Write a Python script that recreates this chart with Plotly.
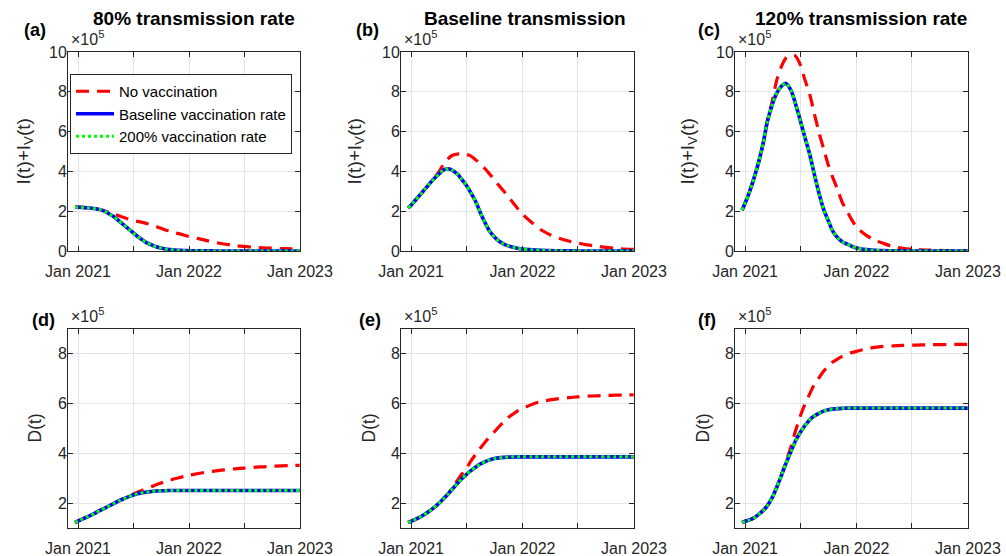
import plotly.graph_objects as go

# ---------------- data (values in units of 10^5) ----------------
dates = ["2020-12-22", "2021-01-01", "2021-01-15", "2021-02-01", "2021-02-15", "2021-03-01",
         "2021-03-15", "2021-04-01", "2021-04-15", "2021-05-01", "2021-05-15", "2021-06-01",
         "2021-06-15", "2021-07-01", "2021-07-15", "2021-08-01", "2021-08-15", "2021-09-01",
         "2021-09-15", "2021-10-01", "2021-10-15", "2021-11-01", "2021-11-15", "2021-12-01",
         "2021-12-15", "2022-01-01", "2022-02-01", "2022-03-01", "2022-04-01", "2022-05-01",
         "2022-06-01", "2022-07-01", "2022-08-01", "2022-09-01", "2022-10-01", "2022-11-01",
         "2022-12-01", "2022-12-31"]

# Infections I(t)+I_V(t)
inf_novac_80 = [2.20, 2.20, 2.19, 2.17, 2.15, 2.12, 2.08, 2.00, 1.92, 1.84, 1.77, 1.68, 1.61,
                1.53, 1.49, 1.44, 1.38, 1.31, 1.23, 1.14, 1.06, 0.99, 0.92, 0.86, 0.80, 0.73,
                0.62, 0.52, 0.42, 0.34, 0.27, 0.23, 0.19, 0.16, 0.14, 0.12, 0.11, 0.10]
inf_base_80 = [2.20, 2.20, 2.19, 2.17, 2.15, 2.12, 2.08, 1.98, 1.85, 1.70, 1.52, 1.30, 1.12,
               0.92, 0.74, 0.55, 0.41, 0.30, 0.21, 0.15, 0.10, 0.07, 0.05, 0.03, 0.02, 0.015,
               0.01, 0.005, 0.003, 0.002, 0.001, 0.0, 0.0, 0.0, 0.0, 0.0, 0.0, 0.0]
inf_200_80 = [2.20, 2.20, 2.19, 2.17, 2.15, 2.12, 2.08, 1.98, 1.85, 1.70, 1.52, 1.30, 1.12,
              0.92, 0.74, 0.55, 0.41, 0.30, 0.21, 0.15, 0.10, 0.07, 0.05, 0.03, 0.02, 0.015,
              0.01, 0.005, 0.003, 0.002, 0.001, 0.0, 0.0, 0.0, 0.0, 0.0, 0.0, 0.0]

inf_novac_100 = [2.17, 2.30, 2.55, 2.85, 3.10, 3.35, 3.62, 3.95, 4.30, 4.62, 4.80, 4.87, 4.88,
                 4.85, 4.78, 4.58, 4.38, 4.12, 3.87, 3.58, 3.30, 3.00, 2.72, 2.43, 2.15, 1.85,
                 1.42, 1.08, 0.82, 0.64, 0.50, 0.40, 0.31, 0.24, 0.18, 0.13, 0.10, 0.08]
inf_base_100 = [2.17, 2.30, 2.55, 2.85, 3.10, 3.35, 3.60, 3.85, 4.05, 4.13, 4.07, 3.88, 3.62,
                3.30, 2.95, 2.47, 1.95, 1.40, 1.00, 0.70, 0.50, 0.35, 0.26, 0.19, 0.14, 0.10,
                0.06, 0.035, 0.02, 0.01, 0.005, 0.003, 0.002, 0.001, 0.0, 0.0, 0.0, 0.0]
inf_200_100 = [2.17, 2.30, 2.55, 2.85, 3.10, 3.35, 3.60, 3.85, 4.05, 4.13, 4.07, 3.88, 3.62,
               3.30, 2.95, 2.47, 1.95, 1.40, 1.00, 0.70, 0.50, 0.35, 0.26, 0.19, 0.14, 0.10,
               0.06, 0.035, 0.02, 0.01, 0.005, 0.003, 0.002, 0.001, 0.0, 0.0, 0.0, 0.0]

inf_novac_120 = [2.05, 2.40, 2.95, 3.75, 4.50, 5.40, 6.55, 7.60, 8.60, 9.30, 9.70, 9.85, 9.80,
                 9.35, 8.65, 7.85, 6.95, 5.90, 5.15, 4.30, 3.70, 3.05, 2.45, 2.00, 1.60, 1.20,
                 0.80, 0.55, 0.37, 0.22, 0.14, 0.09, 0.06, 0.04, 0.03, 0.02, 0.01, 0.01]
inf_base_120 = [2.05, 2.40, 2.95, 3.75, 4.50, 5.40, 6.50, 7.40, 7.95, 8.30, 8.42, 8.05, 7.40,
                6.55, 5.75, 4.84, 3.90, 2.85, 2.10, 1.50, 1.00, 0.65, 0.47, 0.35, 0.25, 0.15,
                0.07, 0.035, 0.018, 0.009, 0.005, 0.002, 0.0, 0.0, 0.0, 0.0, 0.0, 0.0]
inf_200_120 = [2.05, 2.40, 2.95, 3.75, 4.50, 5.40, 6.50, 7.40, 7.95, 8.30, 8.42, 8.05, 7.40,
               6.55, 5.75, 4.84, 3.90, 2.85, 2.10, 1.50, 1.00, 0.65, 0.47, 0.35, 0.25, 0.15,
               0.07, 0.035, 0.018, 0.009, 0.005, 0.002, 0.0, 0.0, 0.0, 0.0, 0.0, 0.0]

# Deaths D(t)
dth_novac_80 = [1.22, 1.28, 1.36, 1.45, 1.53, 1.62, 1.71, 1.81, 1.90, 2.00, 2.09, 2.19, 2.27,
                2.36, 2.44, 2.52, 2.59, 2.67, 2.74, 2.81, 2.87, 2.93, 2.98, 3.03, 3.07, 3.12,
                3.19, 3.25, 3.30, 3.34, 3.38, 3.41, 3.44, 3.46, 3.48, 3.50, 3.51, 3.52]
dth_base_80 = [1.22, 1.28, 1.36, 1.45, 1.53, 1.62, 1.71, 1.81, 1.90, 2.00, 2.09, 2.18, 2.25,
               2.32, 2.38, 2.42, 2.45, 2.47, 2.49, 2.50, 2.50, 2.51, 2.51, 2.51, 2.51, 2.51,
               2.51, 2.51, 2.51, 2.51, 2.51, 2.51, 2.51, 2.51, 2.51, 2.51, 2.51, 2.51]
dth_200_80 = [1.22, 1.28, 1.36, 1.45, 1.53, 1.62, 1.71, 1.81, 1.90, 2.00, 2.09, 2.18, 2.25,
              2.32, 2.38, 2.42, 2.45, 2.47, 2.49, 2.50, 2.50, 2.51, 2.51, 2.51, 2.51, 2.51,
              2.51, 2.51, 2.51, 2.51, 2.51, 2.51, 2.51, 2.51, 2.51, 2.51, 2.51, 2.51]

dth_novac_100 = [1.22, 1.27, 1.35, 1.45, 1.55, 1.67, 1.80, 1.98, 2.15, 2.36, 2.60, 2.90, 3.15,
                 3.38, 3.68, 3.97, 4.20, 4.46, 4.66, 4.87, 5.06, 5.28, 5.44, 5.58, 5.70, 5.80,
                 5.97, 6.08, 6.15, 6.20, 6.24, 6.27, 6.30, 6.31, 6.33, 6.34, 6.35, 6.35]
dth_base_100 = [1.22, 1.27, 1.35, 1.45, 1.55, 1.67, 1.80, 1.98, 2.15, 2.35, 2.55, 2.78, 2.97,
                3.15, 3.30, 3.45, 3.57, 3.67, 3.74, 3.79, 3.82, 3.84, 3.85, 3.85, 3.86, 3.86,
                3.86, 3.86, 3.86, 3.86, 3.86, 3.86, 3.86, 3.86, 3.86, 3.86, 3.86, 3.86]
dth_200_100 = [1.22, 1.27, 1.35, 1.45, 1.55, 1.67, 1.80, 1.98, 2.15, 2.35, 2.55, 2.78, 2.97,
               3.15, 3.30, 3.45, 3.57, 3.67, 3.74, 3.79, 3.82, 3.84, 3.85, 3.85, 3.86, 3.86,
               3.86, 3.86, 3.86, 3.86, 3.86, 3.86, 3.86, 3.86, 3.86, 3.86, 3.86, 3.86]

dth_novac_120 = [1.22, 1.27, 1.32, 1.42, 1.55, 1.70, 1.90, 2.25, 2.65, 3.15, 3.65, 4.30, 4.90,
                 5.50, 5.95, 6.40, 6.75, 7.05, 7.30, 7.50, 7.67, 7.80, 7.90, 7.98, 8.05, 8.10,
                 8.20, 8.26, 8.30, 8.32, 8.34, 8.35, 8.36, 8.37, 8.37, 8.38, 8.38, 8.38]
dth_base_120 = [1.22, 1.27, 1.32, 1.42, 1.55, 1.70, 1.90, 2.25, 2.65, 3.15, 3.60, 4.10, 4.50,
                4.85, 5.10, 5.35, 5.50, 5.62, 5.70, 5.75, 5.78, 5.80, 5.81, 5.82, 5.82, 5.82,
                5.82, 5.82, 5.82, 5.82, 5.82, 5.82, 5.82, 5.82, 5.82, 5.82, 5.82, 5.82]
dth_200_120 = [1.22, 1.27, 1.32, 1.42, 1.55, 1.70, 1.90, 2.25, 2.65, 3.15, 3.60, 4.10, 4.50,
               4.85, 5.10, 5.35, 5.50, 5.62, 5.70, 5.75, 5.78, 5.80, 5.81, 5.82, 5.82, 5.82,
               5.82, 5.82, 5.82, 5.82, 5.82, 5.82, 5.82, 5.82, 5.82, 5.82, 5.82, 5.82]

series_names = ["No vaccination", "Baseline vaccination rate", "200% vaccination rate"]
panel_titles = ["80% transmission rate", "Baseline transmission", "120% transmission rate"]
panel_letters = ["(a)", "(b)", "(c)", "(d)", "(e)", "(f)"]
x_tickvals = ["2021-01-01", "2021-07-01", "2022-01-01", "2022-07-01", "2023-01-01"]
x_ticktext = ["Jan 2021", "", "Jan 2022", "", "Jan 2023"]
top_yticks = [0, 2, 4, 6, 8, 10]
bottom_yticks = [2, 4, 6, 8]

panels = [
    (inf_novac_80, inf_base_80, inf_200_80),
    (inf_novac_100, inf_base_100, inf_200_100),
    (inf_novac_120, inf_base_120, inf_200_120),
    (dth_novac_80, dth_base_80, dth_200_80),
    (dth_novac_100, dth_base_100, dth_200_100),
    (dth_novac_120, dth_base_120, dth_200_120),
]

# ---------------- layout geometry ----------------
W, H = 1006, 556
col_px = [(68, 300), (401, 634), (735, 968)]
row_px = [(52, 251), (329, 528)]

FONT = "Liberation Sans, Arial, Helvetica, sans-serif"
AX = "#262626"
GRID = "#e4e4e4"

styles = [
    dict(color="#ff0000", width=3.2, dash="13px,8px"),
    dict(color="#0000ff", width=3.6, dash="solid"),
    dict(color="#00ff00", width=3.0, dash="3px,3px"),
]

fig = go.Figure()
for i, triple in enumerate(panels):
    ax = "" if i == 0 else str(i + 1)
    for k, ys in enumerate(triple):
        fig.add_trace(go.Scatter(
            x=dates, y=ys, mode="lines", name=series_names[k],
            line=dict(shape="spline", smoothing=0.8, **styles[k]),
            xaxis="x" + ax, yaxis="y" + ax, showlegend=(i == 0)))

layout = dict(
    width=W, height=H, margin=dict(l=0, r=0, t=0, b=0),
    paper_bgcolor="white", plot_bgcolor="white", hovermode=False,
    font=dict(family=FONT, color=AX, size=16),
    legend=dict(x=70 / W, y=1 - 74 / H, xanchor="left", yanchor="top",
                bgcolor="white", bordercolor=AX, borderwidth=1,
                font=dict(size=15, color="black"), tracegroupgap=0,
                itemwidth=38),
)
annotations = []
for i in range(6):
    r, c = divmod(i, 3)
    x0, x1 = col_px[c]
    y0, y1 = row_px[r]
    ax = "" if i == 0 else str(i + 1)
    common = dict(showline=True, linecolor=AX, linewidth=1, mirror="ticks",
                  ticks="inside", ticklen=5, tickcolor=AX, tickwidth=1,
                  showgrid=True, gridcolor=GRID, gridwidth=1, zeroline=False,
                  tickfont=dict(size=16, color=AX, family=FONT), automargin=False)
    layout["xaxis" + ax] = dict(domain=[x0 / W, x1 / W], anchor="y" + ax,
                                type="date", range=["2020-11-29", "2023-01-01"],
                                tickmode="array", tickvals=x_tickvals, ticktext=x_ticktext,
                                ticklabelstandoff=6, **common)
    if r == 0:
        yr, yt = [0, 10], top_yticks
    else:
        yr, yt = [1, 9], bottom_yticks
    layout["yaxis" + ax] = dict(domain=[1 - y1 / H, 1 - y0 / H], anchor="x" + ax,
                                range=yr, tickmode="array", tickvals=yt,
                                ticklabelstandoff=-3, **common)

    # panel letter
    letter_x = [35, 367, 709, 43, 370, 707][i]
    letter_y = [30, 30, 30, 320, 320, 320][i]
    annotations.append(dict(text="<b>%s</b>" % panel_letters[i], x=letter_x / W, y=1 - letter_y / H,
                            xref="paper", yref="paper", xanchor="center", yanchor="middle",
                            showarrow=False, font=dict(size=18, color="black", family=FONT)))
    # exponent label
    annotations.append(dict(text="×10<sup>5</sup>", x=(x0 + 1) / W, y=1 - (y0 - 2) / H,
                            xref="paper", yref="paper", xanchor="left", yanchor="bottom",
                            showarrow=False, font=dict(size=16, color=AX, family=FONT)))
    # y axis title
    if r == 0:
        ytitle, ysize = "I(t)+I<sub>V</sub>(t)", 19
    else:
        ytitle, ysize = "D(t)", 17.5
    yt_x = [25, 356, 689, 34, 368, 702][i]
    annotations.append(dict(text=ytitle, x=yt_x / W, y=1 - ((y0 + y1) / 2) / H,
                            xref="paper", yref="paper", xanchor="center", yanchor="middle",
                            textangle=-90, showarrow=False,
                            font=dict(size=ysize, color=AX, family=FONT)))
    if r == 0:
        tx = [194, 525, 861][c]
        annotations.append(dict(text="<b>%s</b>" % panel_titles[c], x=tx / W, y=1 - 18 / H,
                                xref="paper", yref="paper", xanchor="center", yanchor="middle",
                                showarrow=False, font=dict(size=19, color="black", family=FONT)))

layout["annotations"] = annotations
fig.update_layout(**layout)
fig.write_html("out.html", config={"displayModeBar": False, "staticPlot": True},
               post_script="document.body.style.margin='0';document.body.style.overflow='hidden';")
